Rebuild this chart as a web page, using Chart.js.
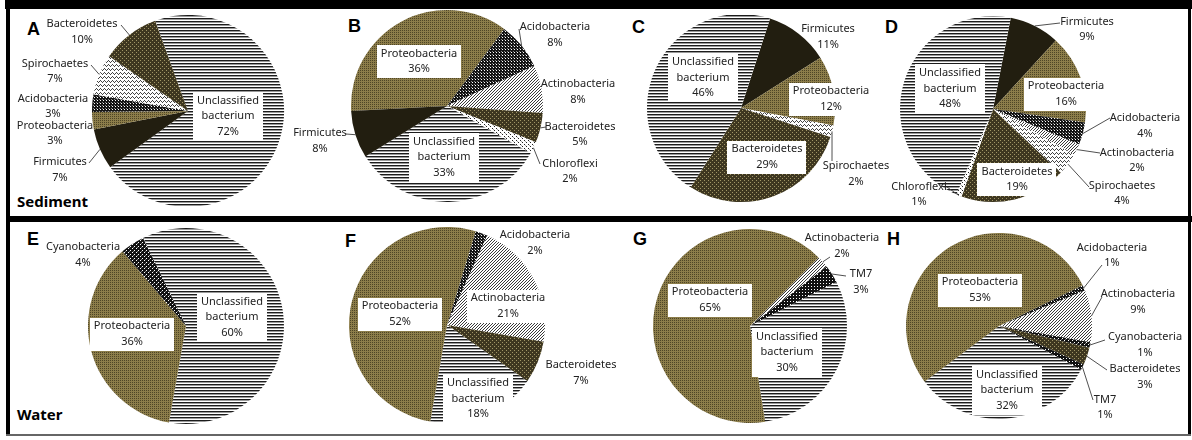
<!DOCTYPE html>
<html>
<head>
<meta charset="utf-8">
<script src="https://cdn.jsdelivr.net/npm/chart.js@4/dist/chart.umd.min.js"></script>
<style>
  html, body { margin: 0; padding: 0; background: #fff; }
  #fig { position: relative; width: 1192px; height: 440px; overflow: hidden; background: #fff; }
  #fig canvas { position: absolute; left: 0; top: 0; }
  .rule { position: absolute; background: #000; }
  .tag { position: absolute; font: bold 18px "Liberation Sans", Arial, sans-serif; line-height: 18px; color: #000; white-space: nowrap; }
  .group { position: absolute; font: bold 15px "Noto Sans", sans-serif; line-height: 15px; color: #000; white-space: nowrap; }
</style>
</head>
<body>
<div id="fig">
  <div class="rule" style="left:5px;top:0;width:1187px;height:9px"></div>
  <div class="rule" style="left:6px;top:0;width:4px;height:436px"></div>
  <div class="rule" style="left:6px;top:216px;width:1186px;height:6px"></div>
  <div class="rule" style="left:1188px;top:0;width:3px;height:436px"></div>
  <div class="rule" style="left:6px;top:434px;width:1185px;height:2px;background:#666"></div>

  <div class="tag" style="left:27px;top:20px">A</div>
  <div class="tag" style="left:348px;top:17px">B</div>
  <div class="tag" style="left:632px;top:18px">C</div>
  <div class="tag" style="left:885px;top:18px">D</div>
  <div class="tag" style="left:27px;top:230px">E</div>
  <div class="tag" style="left:345px;top:232px">F</div>
  <div class="tag" style="left:633px;top:230px">G</div>
  <div class="tag" style="left:887px;top:230px">H</div>
  <div class="group" style="left:17px;top:194px">Sediment</div>
  <div class="group" style="left:17px;top:407px">Water</div>
</div>
<script>
// Relative abundance (%) of bacterial phyla, one pair of arrays per sample.
const catsA = ['Unclassified bacterium', 'Firmicutes', 'Proteobacteria', 'Acidobacteria', 'Spirochaetes', 'Bacteroidetes'];
const valsA = [72, 7, 3, 3, 7, 10];

const catsB = ['Proteobacteria', 'Acidobacteria', 'Actinobacteria', 'Bacteroidetes', 'Chloroflexi', 'Unclassified bacterium', 'Firmicutes'];
const valsB = [36, 8, 8, 5, 2, 33, 8];

const catsC = ['Firmicutes', 'Proteobacteria', 'Spirochaetes', 'Bacteroidetes', 'Unclassified bacterium'];
const valsC = [11, 12, 2, 29, 46];

const catsD = ['Firmicutes', 'Proteobacteria', 'Acidobacteria', 'Actinobacteria', 'Spirochaetes', 'Bacteroidetes', 'Chloroflexi', 'Unclassified bacterium'];
const valsD = [9, 16, 4, 2, 4, 19, 1, 48];

const catsE = ['Unclassified bacterium', 'Proteobacteria', 'Cyanobacteria'];
const valsE = [60, 36, 4];

const catsF = ['Acidobacteria', 'Actinobacteria', 'Bacteroidetes', 'Unclassified bacterium', 'Proteobacteria'];
const valsF = [2, 21, 7, 18, 52];

const catsG = ['Actinobacteria', 'TM7', 'Unclassified bacterium', 'Proteobacteria'];
const valsG = [2, 3, 30, 65];

const catsH = ['Acidobacteria', 'Actinobacteria', 'Cyanobacteria', 'Bacteroidetes', 'TM7', 'Unclassified bacterium', 'Proteobacteria'];
const valsH = [1, 9, 1, 3, 1, 32, 53];

// Small bitmap fills, one per phylum.
function tile(w, h, base, px) {
  const c = document.createElement('canvas');
  c.width = w; c.height = h;
  const g = c.getContext('2d');
  g.fillStyle = base; g.fillRect(0, 0, w, h);
  px.forEach(([x, y, col]) => { g.fillStyle = col; g.fillRect(x, y, 1, 1); });
  return g.createPattern(c, 'repeat');
}
function rows(colors) {
  const c = document.createElement('canvas');
  c.width = 1; c.height = colors.length;
  const g = c.getContext('2d');
  colors.forEach((col, y) => { g.fillStyle = col; g.fillRect(0, y, 1, 1); });
  return g.createPattern(c, 'repeat');
}

const FILLS = {
  'Unclassified bacterium': rows(['#1c1c1c', '#9a9a9a', '#ffffff']),
  'Proteobacteria': tile(2, 2, '#8c7d4a', [[0, 0, '#4e4526']]),
  'Bacteroidetes': tile(4, 4, '#3e3720', [[0, 0, '#a09566'], [2, 2, '#a09566']]),
  'Firmicutes': '#221e10',
  'Acidobacteria': tile(3, 3, '#141414', [[1, 1, '#ffffff'], [0, 0, '#888888']]),
  'Spirochaetes': tile(4, 4, '#ffffff', [[0, 0, '#444'], [1, 1, '#444'], [2, 2, '#444'], [3, 1, '#444']]),
  'Actinobacteria': tile(3, 3, '#ffffff', [[0, 2, '#3a3a3a'], [1, 1, '#3a3a3a'], [2, 0, '#3a3a3a']]),
  'Chloroflexi': tile(4, 4, '#ffffff', [[0, 0, '#222'], [2, 2, '#222'], [1, 1, '#aaa']]),
  'Cyanobacteria': tile(4, 4, '#121212', [[0, 0, '#ffffff'], [2, 2, '#ffffff'], [1, 3, '#777']]),
  'TM7': tile(3, 3, '#111111', [[1, 1, '#ffffff']])
};

// Placement of every pie and of the text next to each slice.
const PANELS = [
  { cats: catsA, vals: valsA, cx: 188, cy: 111, r: 96, rot: -20, spots: [
    { x: 228, y: 116, box: true },
    { x: 60, y: 170, lead: [[89, 163]] },
    { x: 55, y: 133.5 },
    { x: 53, y: 106.5 },
    { x: 55, y: 71.5, lead: [[91, 65]] },
    { x: 82, y: 32, lead: [[121, 25]] } ] },
  { cats: catsB, vals: valsB, cx: 447, cy: 106, r: 96, rot: -93, spots: [
    { x: 419, y: 61.5, box: true },
    { x: 555, y: 35, lead: [[519, 29]] },
    { x: 578, y: 92 },
    { x: 580, y: 134.5, lead: [[546, 127]] },
    { x: 570, y: 171.5, lead: [[540, 164]] },
    { x: 444, y: 157, box: true },
    { x: 320, y: 141, lead: [[346, 134]] } ] },
  { cats: catsC, vals: valsC, cx: 741, cy: 108, r: 94, rot: 18, spots: [
    { x: 828, y: 37 },
    { x: 831, y: 99, box: true },
    { x: 856, y: 174, lead: [[832, 161]] },
    { x: 767, y: 157, box: true },
    { x: 703, y: 77.5, box: true } ] },
  { cats: catsD, vals: valsD, cx: 993, cy: 109, r: 93, rot: 11, spots: [
    { x: 1087, y: 29.5, lead: [[1060, 23]] },
    { x: 1066, y: 94, box: true },
    { x: 1145, y: 126, lead: [[1110, 118]] },
    { x: 1137, y: 160.5, lead: [[1100, 153]] },
    { x: 1122, y: 193.5, lead: [[1089, 187]] },
    { x: 1017, y: 179.5, box: true },
    { x: 919, y: 194.5, lead: [[947, 187]] },
    { x: 950, y: 88.5, box: true } ] },
  { cats: catsE, vals: valsE, cx: 186, cy: 326, r: 98, rot: -26, spots: [
    { x: 232, y: 317, box: true },
    { x: 132, y: 334, box: true },
    { x: 83, y: 255 } ] },
  { cats: catsF, vals: valsF, cx: 447, cy: 325, r: 98, rot: 17, spots: [
    { x: 535, y: 243 },
    { x: 508, y: 306, box: true },
    { x: 581, y: 373 },
    { x: 478, y: 398.5, box: true },
    { x: 400, y: 314, box: true } ] },
  { cats: catsG, vals: valsG, cx: 750, cy: 326, r: 97, rot: 45, spots: [
    { x: 842, y: 246, lead: [[830, 257]] },
    { x: 861, y: 282, lead: [[846, 276]] },
    { x: 787, y: 352, box: true },
    { x: 710, y: 300, box: true } ] },
  { cats: catsH, vals: valsH, cx: 999, cy: 326, r: 93, rot: 64, spots: [
    { x: 1112, y: 255.5, lead: [[1102, 265]] },
    { x: 1138, y: 302, lead: [[1102, 297]] },
    { x: 1145, y: 345, lead: [[1105, 340]] },
    { x: 1145, y: 377, lead: [[1107, 370]] },
    { x: 1105, y: 407.5, lead: [[1093, 400]] },
    { x: 1007, y: 390, box: true },
    { x: 980, y: 290, box: true } ] }
];

const LINE_H = 15.5;

// Draws name + percentage beside each slice, with optional white box and leader line.
function sliceLabels(spots) {
  return {
    id: 'sliceLabels',
    afterDatasetsDraw(chart) {
      const ctx = chart.ctx;
      const meta = chart.getDatasetMeta(0);
      const cats = chart.data.labels;
      const vals = chart.data.datasets[0].data;
      ctx.save();
      ctx.font = '11px "Noto Sans", sans-serif';
      ctx.textAlign = 'center';
      ctx.textBaseline = 'middle';
      meta.data.forEach((arc, i) => {
        const s = spots[i];
        const p = arc.getProps(['x', 'y', 'startAngle', 'endAngle', 'outerRadius'], true);
        const lines = cats[i].split(' ').concat([vals[i] + '%']);
        if (s.lead) {
          const mid = (p.startAngle + p.endAngle) / 2;
          ctx.beginPath();
          ctx.moveTo(p.x + Math.cos(mid) * p.outerRadius, p.y + Math.sin(mid) * p.outerRadius);
          s.lead.forEach(([lx, ly]) => ctx.lineTo(lx, ly));
          ctx.strokeStyle = '#3c3c3c';
          ctx.lineWidth = 0.9;
          ctx.stroke();
        }
        if (s.box) {
          const w = Math.max(...lines.map(t => ctx.measureText(t).width)) + 8;
          const h = lines.length * LINE_H + 2;
          ctx.fillStyle = '#ffffff';
          ctx.fillRect(Math.round(s.x - w / 2), Math.round(s.y - h / 2), Math.round(w), Math.round(h));
        }
        ctx.fillStyle = '#222';
        lines.forEach((t, k) => ctx.fillText(t, s.x, s.y + (k - (lines.length - 1) / 2) * LINE_H));
      });
      ctx.restore();
    }
  };
}

const W = 1192, H = 440;
const fig = document.getElementById('fig');
PANELS.forEach(pn => {
  const cv = document.createElement('canvas');
  cv.width = W; cv.height = H;
  cv.style.width = W + 'px'; cv.style.height = H + 'px';
  fig.appendChild(cv);
  new Chart(cv, {
    type: 'pie',
    data: {
      labels: pn.cats,
      datasets: [{
        data: pn.vals,
        backgroundColor: pn.cats.map(c => FILLS[c]),
        borderWidth: 0,
        hoverOffset: 0
      }]
    },
    options: {
      responsive: false,
      devicePixelRatio: 1,
      animation: false,
      events: [],
      rotation: pn.rot,
      radius: pn.r,
      layout: { padding: { left: pn.cx - pn.r, right: W - pn.cx - pn.r, top: pn.cy - pn.r, bottom: H - pn.cy - pn.r } },
      plugins: { legend: { display: false }, tooltip: { enabled: false } }
    },
    plugins: [sliceLabels(pn.spots)]
  });
});
</script>
</body>
</html>
